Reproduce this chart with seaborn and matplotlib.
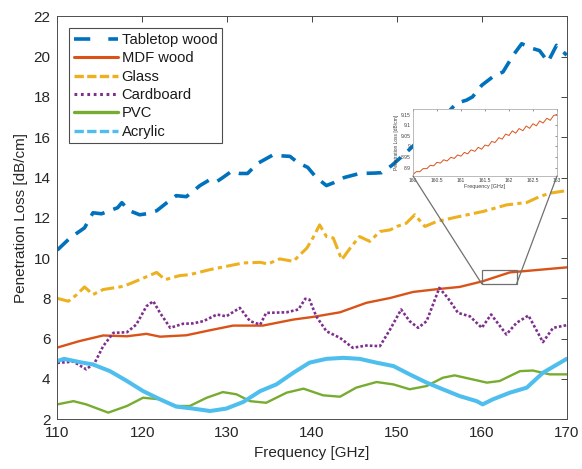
import matplotlib
matplotlib.use("Agg")
import matplotlib.pyplot as plt
import seaborn as sns
from matplotlib.lines import Line2D
from matplotlib.patches import Rectangle, ConnectionPatch
from matplotlib.ticker import FuncFormatter

sns.set_theme(style="white")
plt.rcParams["font.family"] = ["Liberation Sans", "DejaVu Sans"]

# ---- measured penetration loss vs. frequency ----
tabletop_f = [110.0, 111.5, 113.2, 114.2, 115.2, 117.1, 117.6, 118.5, 119.7, 120.5,
              121.7, 122.9, 124.0, 125.2, 126.8, 128.0, 128.8, 129.5, 130.5, 131.5,
              132.4, 133.6, 135.4, 136.6, 137.4, 138.3, 139.5, 140.5, 141.7, 142.6,
              143.8, 145.6, 147.4, 148.2, 149.4, 151.0, 152.5, 154.0, 155.5, 157.0,
              158.2, 158.9, 160.0, 161.3, 162.5, 163.7, 164.7, 166.0, 166.8, 167.8,
              168.8, 170.0]
tabletop_v = [10.4, 11.0, 11.5, 12.25, 12.2, 12.5, 12.75, 12.35, 12.15, 12.2,
              12.35, 12.75, 13.1, 13.05, 13.6, 13.9, 13.8, 14.0, 14.3, 14.2,
              14.2, 14.7, 15.12, 15.07, 15.05, 14.75, 14.5, 14.0, 13.6, 13.75,
              14.0, 14.2, 14.22, 14.24, 14.6, 15.2, 15.8, 16.4, 17.0, 17.68,
              17.84, 18.0, 18.58, 19.0, 19.24, 20.07, 20.64, 20.4, 20.3, 19.74,
              20.56, 20.07]

mdf_f = [110.0, 112.6, 115.4, 118.2, 120.5, 122.1, 125.2, 128.0, 130.7, 134.2,
         137.8, 140.1, 143.3, 146.4, 149.2, 151.9, 155.0, 157.4, 160.1, 163.3,
         166.0, 170.0]
mdf_v = [5.56, 5.88, 6.16, 6.12, 6.24, 6.1, 6.17, 6.42, 6.65, 6.65,
         6.95, 7.08, 7.31, 7.78, 8.02, 8.32, 8.47, 8.57, 8.85, 9.29,
         9.39, 9.54]

glass_f = [110.0, 111.3, 112.3, 113.2, 114.2, 115.4, 117.8, 119.7, 121.7, 122.7,
           124.4, 125.6, 128.0, 129.9, 131.9, 133.9, 134.8, 136.2, 137.8, 139.4,
           140.1, 140.9, 141.7, 142.5, 143.5, 144.5, 145.6, 146.8, 148.0, 149.2,
           150.0, 151.1, 152.1, 153.3, 154.7, 157.4, 160.2, 162.9, 165.3, 166.8,
           168.0, 170.0]
glass_v = [8.0, 7.86, 8.19, 8.57, 8.19, 8.44, 8.6, 8.93, 9.29, 8.93,
           9.13, 9.18, 9.43, 9.59, 9.76, 9.79, 9.71, 9.96, 9.84, 10.5,
           11.0, 11.65, 11.07, 11.0, 9.92, 10.5, 11.07, 10.83, 11.32, 11.4,
           11.57, 11.73, 12.15, 11.57, 11.82, 12.07, 12.32, 12.64, 12.76, 13.05,
           13.22, 13.35]

cardboard_f = [110.0, 111.9, 113.4, 114.4, 115.4, 116.6, 118.2, 119.3, 120.5, 121.3,
               122.1, 123.3, 124.8, 126.0, 127.2, 128.8, 129.9, 131.5, 132.7, 133.9,
               134.6, 137.0, 138.4, 139.2, 139.7, 140.5, 141.7, 143.3, 144.8, 146.4,
               148.0, 149.2, 150.5, 151.5, 152.5, 153.5, 155.0, 156.0, 157.2, 158.6,
               160.0, 161.1, 162.9, 164.1, 165.5, 167.2, 168.4, 170.0]
cardboard_v = [4.8, 4.86, 4.48, 4.8, 5.63, 6.29, 6.32, 6.7, 7.61, 7.86,
               7.28, 6.54, 6.74, 6.76, 6.87, 7.2, 7.11, 7.53, 6.87, 6.7,
               7.28, 7.31, 7.45, 7.98, 7.94, 7.11, 6.37, 6.04, 5.55, 5.66,
               5.63, 6.46, 7.45, 6.87, 6.54, 6.87, 8.52, 8.02, 7.28, 7.11,
               6.54, 7.2, 6.21, 6.79, 7.15, 5.83, 6.54, 6.67]

pvc_f = [110.0, 111.9, 113.4, 116.0, 118.2, 120.1, 122.1, 124.0, 125.6, 127.6,
         129.5, 131.1, 132.7, 134.6, 137.0, 139.0, 141.3, 143.3, 145.2, 147.6,
         149.6, 151.5, 153.5, 155.4, 156.8, 158.6, 160.6, 162.1, 164.5, 166.0,
         168.0, 170.0]
pvc_v = [2.74, 2.9, 2.74, 2.33, 2.66, 3.07, 2.99, 2.66, 2.66, 3.07,
         3.35, 3.24, 2.9, 2.82, 3.32, 3.52, 3.19, 3.12, 3.57, 3.85,
         3.73, 3.49, 3.65, 4.06, 4.18, 4.01, 3.82, 3.9, 4.39, 4.42,
         4.23, 4.23]

acrylic_f = [110.0, 110.8, 112.6, 114.2, 116.2, 118.2, 120.1, 122.1, 124.0, 126.0,
             128.0, 129.9, 131.9, 133.9, 135.8, 137.8, 139.7, 141.7, 143.7, 145.6,
             147.6, 149.6, 151.5, 153.5, 155.4, 157.4, 159.4, 160.1, 161.3, 163.3,
             165.3, 167.2, 170.0]
acrylic_v = [4.89, 5.0, 4.84, 4.72, 4.39, 3.9, 3.4, 2.99, 2.63, 2.53,
             2.41, 2.53, 2.86, 3.4, 3.73, 4.31, 4.81, 5.0, 5.05, 5.0,
             4.81, 4.64, 4.23, 3.82, 3.49, 3.15, 2.9, 2.74, 2.99, 3.32,
             3.57, 4.31, 5.0]

# ---- high-resolution MDF wood sweep, 160-163 GHz ----
zoom_f = [160.00, 160.07, 160.14, 160.21, 160.29, 160.36, 160.43, 160.50, 160.57, 160.64,
          160.71, 160.79, 160.86, 160.93, 161.00, 161.07, 161.14, 161.21, 161.29, 161.36,
          161.43, 161.50, 161.57, 161.64, 161.71, 161.79, 161.86, 161.93, 162.00, 162.07,
          162.14, 162.21, 162.29, 162.36, 162.43, 162.50, 162.57, 162.64, 162.71, 162.79,
          162.86, 162.93, 163.00]
zoom_v = [8.867, 8.881, 8.880, 8.895, 8.895, 8.911, 8.908, 8.925, 8.921, 8.937,
          8.931, 8.949, 8.943, 8.960, 8.954, 8.972, 8.965, 8.984, 8.977, 8.996,
          8.987, 9.007, 9.002, 9.024, 9.019, 9.042, 9.035, 9.059, 9.052, 9.074,
          9.063, 9.085, 9.075, 9.097, 9.086, 9.108, 9.098, 9.121, 9.111, 9.134,
          9.124, 9.147, 9.152]

names = ["Tabletop wood", "MDF wood", "Glass", "Cardboard", "PVC", "Acrylic"]
colors = ["#0072BD", "#D95319", "#EDB120", "#7E2F8E", "#77AC30", "#4DBEEE"]

fig = plt.figure(figsize=(5.82, 4.69), dpi=100)
ax = fig.add_axes([0.0985, 0.106, 0.8752, 0.8592])

series = [
    (tabletop_f, tabletop_v, colors[0], 2.6, (0, (4.2, 2.6))),
    (mdf_f, mdf_v, colors[1], 1.7, "-"),
    (glass_f, glass_v, colors[2], 2.2, (0, (4.5, 1.4, 1.4, 1.4))),
    (cardboard_f, cardboard_v, colors[3], 1.9, (0, (1.0, 0.8))),
    (pvc_f, pvc_v, colors[4], 1.7, "-"),
    (acrylic_f, acrylic_v, colors[5], 2.9, "-"),
]
for f, v, c, lw, ls in series:
    sns.lineplot(x=f, y=v, ax=ax, color=c, linewidth=lw, linestyle=ls,
                 estimator=None, sort=False, legend=False)

ax.set_xlim(110, 170)
ax.set_ylim(2, 22)
ax.set_xticks(range(110, 171, 10))
ax.set_yticks(range(2, 23, 2))
ax.tick_params(direction="in", length=4, width=0.6, top=True, right=True,
               labelsize=11, colors="#262626", pad=5)
for s in ax.spines.values():
    s.set_color("#4d4d4d")
    s.set_linewidth(0.7)
ax.set_xlabel("Frequency [GHz]", fontsize=11, color="#262626", labelpad=4)
ax.set_ylabel("Penetration Loss [dB/cm]", fontsize=11, color="#262626", labelpad=4)

handles = [
    Line2D([], [], color=colors[0], lw=2.6, linestyle=(0, (4.5, 5.0))),
    Line2D([], [], color=colors[1], lw=2.2, linestyle="-"),
    Line2D([], [], color=colors[2], lw=2.4, linestyle=(0, (2.8, 1.0))),
    Line2D([], [], color=colors[3], lw=2.2, linestyle=(0, (0.9, 1.2))),
    Line2D([], [], color=colors[4], lw=2.4, linestyle="-"),
    Line2D([], [], color=colors[5], lw=2.4, linestyle=(0, (2.8, 1.0))),
]
leg = ax.legend(handles, names, loc="upper left", bbox_to_anchor=(0.0236, 0.970),
                borderaxespad=0, fontsize=10.6, frameon=True, fancybox=False,
                framealpha=1, edgecolor="#4d4d4d", handlelength=3.0,
                handletextpad=0.25, labelspacing=0.3, borderpad=0.3)
leg.get_frame().set_linewidth(0.8)
for t in leg.get_texts():
    t.set_color("#1a1a1a")

# zoom marker on the MDF curve
rect = Rectangle((160, 8.72), 4.1, 0.71, fill=False, ec="#707070", lw=0.9, zorder=6)
ax.add_patch(rect)

axins = fig.add_axes([0.7096, 0.6247, 0.2474, 0.1439])
axins.set_facecolor("white")
sns.lineplot(x=zoom_f, y=zoom_v, ax=axins, color=colors[1], linewidth=0.7,
             estimator=None, sort=False, legend=False)
axins.set_xlim(160, 163)
axins.set_ylim(8.86, 9.18)
axins.set_xticks([160, 160.5, 161, 161.5, 162, 162.5, 163])
axins.set_yticks([8.9, 8.95, 9.0, 9.05, 9.1, 9.15])
fmt = FuncFormatter(lambda v, p: f"{v:g}")
axins.xaxis.set_major_formatter(fmt)
axins.yaxis.set_major_formatter(fmt)
axins.tick_params(direction="in", length=1.5, width=0.4, top=True, right=True,
                  labelsize=3.6, colors="#404040", pad=1.5)
for s in axins.spines.values():
    s.set_color("#a0a0a0")
    s.set_linewidth(0.5)
axins.set_xlabel("Frequency [GHz]", fontsize=3.9, color="#404040", labelpad=1)
axins.set_ylabel("Penetration Loss [dB/cm]", fontsize=3.5, color="#404040", labelpad=1.5)

for xa, xb in [((160, 8.72), (0, 0)), ((164.1, 8.72), (1, 0))]:
    con = ConnectionPatch(xyA=xa, coordsA=ax.transData, xyB=xb, coordsB=axins.transAxes,
                          color="#707070", lw=0.9)
    fig.add_artist(con)

fig.savefig("out.png", dpi=100)
